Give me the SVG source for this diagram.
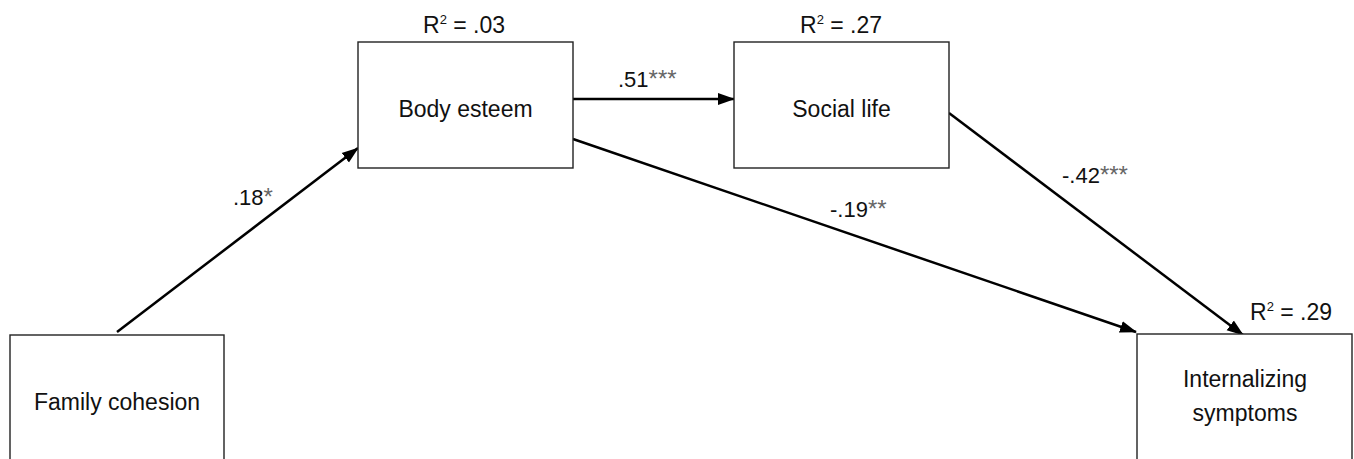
<svg xmlns="http://www.w3.org/2000/svg" width="1354" height="459" viewBox="0 0 1354 459">
<style>
.box{fill:#fff;stroke:#222;stroke-width:1.4}
.t{font-family:"Liberation Sans",Arial,sans-serif;font-size:23px;fill:#111}
.r{font-family:"Liberation Sans",Arial,sans-serif;font-size:23px;fill:#111}
.sup{font-size:13px}
.lab{font-family:"Liberation Sans",Arial,sans-serif;font-size:22px;fill:#111}
.st{font-size:24px;fill:#666}
.edge{stroke:#000;stroke-width:2.5;fill:none;marker-end:url(#ah)}
</style>
<defs>
<marker id="ah" markerUnits="userSpaceOnUse" markerWidth="18" markerHeight="14" refX="16" refY="6" orient="auto" viewBox="0 0 18 12">
<path d="M0,0 L17,6 L0,12 Z" fill="#000"/>
</marker>
</defs>
<rect width="1354" height="459" fill="#fff"/>
<g id="connectors">
<line class="edge" x1="117" y1="332" x2="358" y2="148"/>
<line class="edge" x1="573" y1="99" x2="734" y2="99"/>
<line class="edge" x1="573" y1="139" x2="1136" y2="332"/>
<line class="edge" x1="949" y1="113" x2="1243" y2="335"/>
<text class="lab" x="233" y="205">.18<tspan class="st">*</tspan></text>
<text class="lab" x="618" y="87">.51<tspan class="st">***</tspan></text>
<text class="lab" x="830" y="217">-.19<tspan class="st">**</tspan></text>
<text class="lab" x="1062" y="183">-.42<tspan class="st">***</tspan></text>
</g>
<g id="family-cohesion">
<rect class="box" x="10" y="335" width="214" height="126"/>
<text class="t" x="117" y="410" text-anchor="middle">Family cohesion</text>
</g>
<g id="body-esteem">
<rect class="box" x="358" y="42" width="215" height="126"/>
<text class="t" x="465.5" y="117" text-anchor="middle">Body esteem</text>
<text class="r" x="423" y="33">R<tspan class="sup" dy="-9">2</tspan><tspan dy="9"> = .03</tspan></text>
</g>
<g id="social-life">
<rect class="box" x="734" y="42" width="215" height="126"/>
<text class="t" x="841.5" y="117" text-anchor="middle">Social life</text>
<text class="r" x="800" y="33">R<tspan class="sup" dy="-9">2</tspan><tspan dy="9"> = .27</tspan></text>
</g>
<g id="internalizing-symptoms">
<rect class="box" x="1137" y="334" width="215" height="126"/>
<text class="t" x="1245" y="387" text-anchor="middle">Internalizing</text>
<text class="t" x="1245" y="421" text-anchor="middle">symptoms</text>
<text class="r" x="1250" y="320">R<tspan class="sup" dy="-9">2</tspan><tspan dy="9"> = .29</tspan></text>
</g>
</svg>
